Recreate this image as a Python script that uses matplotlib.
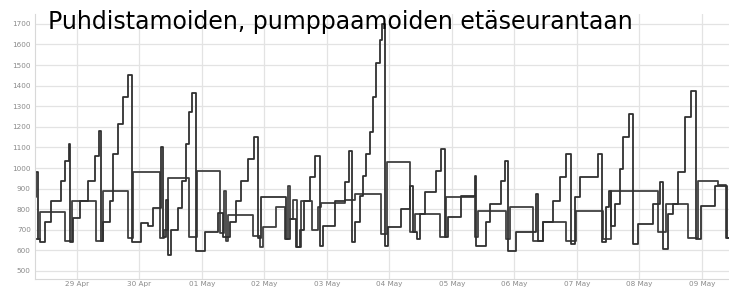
import numpy as np
import pandas as pd
import matplotlib
matplotlib.use("Agg")
import matplotlib.pyplot as plt
import matplotlib.dates as mdates

# hours since 28 Apr 00:00 and level of each step
hours_a = [7.9, 8.4, 9.0, 9.8, 11.7, 14.0, 17.9, 19.4, 20.9, 21.5, 22.5, 25.2, 28.2, 30.9,
           32.4, 33.2, 34.0, 36.7, 37.8, 39.7, 41.7, 43.6, 45.1, 48.6, 51.3, 53.2, 56.3,
           57.0, 58.2, 58.9, 60.1, 62.8, 64.3, 65.9, 67.0, 68.2, 69.7, 73.2, 78.1, 80.1,
           82.8, 85.1, 87.0, 89.7, 92.0, 93.5, 94.7, 104.3, 105.8, 108.1, 109.6, 111.2,
           113.5, 115.4, 117.3, 118.5, 123.1, 126.9, 128.4, 129.6, 130.8, 132.7, 133.8,
           135.0, 136.5, 137.7, 138.8, 140.4, 141.1, 142.3, 143.4, 148.4, 151.9, 153.0,
           154.6, 155.7, 157.6, 161.9, 163.8, 165.3, 166.5, 171.5, 176.8, 177.2, 181.1,
           182.6, 186.8, 188.4, 189.5, 192.6, 200.3, 201.0, 203.0, 206.8, 209.5, 211.8,
           213.7, 215.2, 217.2, 224.1, 225.6, 227.1, 228.3, 229.1, 230.6, 232.5, 233.7,
           236.0, 237.5, 239.4, 245.2, 247.9, 249.0, 251.0, 252.9, 254.8, 257.5, 259.8,
           261.7, 263.6, 269.0, 273.6, 274.4]
flow_a = [858, 979, 655, 640, 737, 839, 936, 1032, 1115, 640, 755, 839, 936, 1057,
          1178, 645, 737, 840, 1067, 1215, 1347, 1453, 640, 732, 718, 805, 1100,
          667, 843, 578, 700, 805, 936, 1118, 1270, 1366, 598, 691, 780, 667,
          737, 839, 936, 1042, 1152, 660, 858, 655, 752, 616, 700, 839,
          955, 1057, 621, 718, 839, 931, 1081, 640, 737, 863, 960,
          1066, 1173, 1347, 1512, 1620, 1700, 621, 713, 800, 911, 689,
          655, 776, 882, 984, 1090, 665, 761, 863, 960, 621, 737,
          824, 936, 1032, 597, 689, 873, 645, 737, 839, 955, 1066,
          630, 858, 955, 1066, 640, 810, 887, 718, 824, 994, 1153,
          1260, 630, 727, 824, 931, 606, 776, 824, 979, 1250, 1376,
          655, 815, 911, 660, 660]

hours_b = [7.9, 9.8, 19.4, 22.1, 31.3, 34.0, 43.6, 45.5, 55.9, 57.4, 58.9, 67.0, 70.1,
           78.9, 80.4, 81.2, 82.0, 91.6, 94.3, 95.4, 100.4, 103.9, 105.0, 105.8, 106.9,
           108.5, 110.0, 114.2, 116.5, 117.7, 126.9, 130.8, 140.7, 143.0, 151.9, 153.8,
           163.4, 165.7, 176.8, 178.0, 188.7, 190.3, 199.1, 203.0, 211.8, 215.6, 226.0,
           229.1, 247.1, 250.2, 258.6, 262.4, 270.1, 273.2, 274.4]
flow_b = [655, 785, 645, 839, 645, 888, 660, 979, 660, 700, 950, 667, 987,
          683, 888, 645, 770, 669, 616, 713, 810, 655, 911, 752, 844,
          616, 839, 700, 810, 830, 845, 873, 679, 1027, 689, 776,
          665, 858, 665, 790, 655, 810, 645, 737, 645, 790, 655,
          887, 689, 824, 660, 936, 916, 660, 660]

title = "Puhdistamoiden, pumppaamoiden etäseurantaan"

start = pd.Timestamp("2019-04-28")
time_a = start + pd.to_timedelta(hours_a, unit="h")
time_b = start + pd.to_timedelta(hours_b, unit="h")

fig = plt.figure(figsize=(7.29, 2.90), dpi=100)
ax = fig.add_axes([35 / 729, 11 / 290, 694 / 729, 265 / 290])

ax.plot(time_b, flow_b, drawstyle="steps-post", color="#404040", lw=1.3)
ax.plot(time_a, flow_a, drawstyle="steps-post", color="#303030", lw=1.3)

ax.set_xlim(start + pd.Timedelta(hours=7.9), start + pd.Timedelta(hours=274.4))
ax.set_ylim(461, 1748)
ax.set_yticks(np.arange(500, 1701, 100))
ax.xaxis.set_major_locator(mdates.DayLocator())
ax.xaxis.set_major_formatter(mdates.DateFormatter("%d %b"))

ax.grid(True, color="#e3e3e3", lw=0.9)
ax.set_axisbelow(True)
for side in ["top", "right"]:
    ax.spines[side].set_visible(False)
for side in ["left", "bottom"]:
    ax.spines[side].set_color("#d8d8d8")
ax.tick_params(length=0, labelsize=5.2, labelcolor="#8a8a8a")
ax.tick_params(axis="x", pad=1.5)
ax.tick_params(axis="y", pad=3)

fig.text(48 / 729, 1 - 29 / 290, title, fontsize=17, color="black", va="baseline")

fig.savefig("out.png", dpi=100)
